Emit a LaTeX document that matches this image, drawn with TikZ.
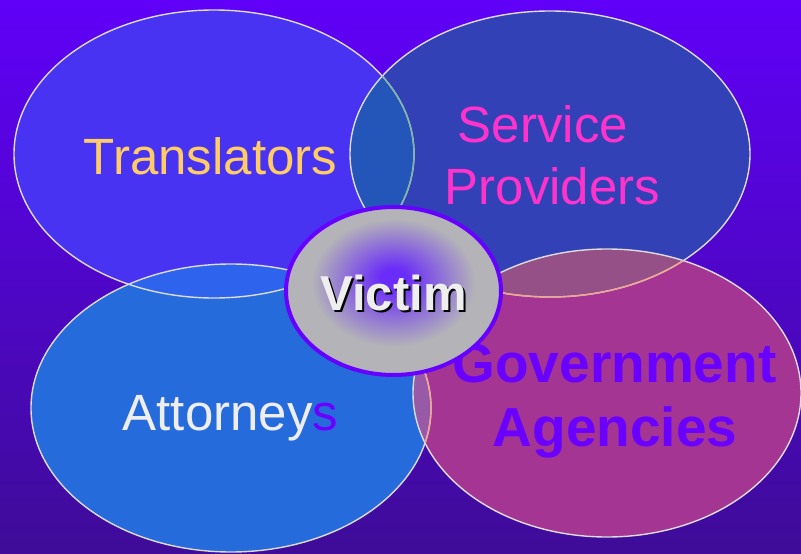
\documentclass[tikz,border=0pt]{standalone}
\usepackage{fontspec}
\setmainfont{Liberation Sans}
\definecolor{bgtop}{HTML}{6000F8}
\definecolor{bgmid}{HTML}{5204D8}
\definecolor{bgbot}{HTML}{3E0C98}
\definecolor{fillT}{HTML}{4933F2}
\definecolor{fillS}{HTML}{3241B5}
\definecolor{fillA}{HTML}{266BDC}
\definecolor{fillG}{HTML}{A53592}
\definecolor{fillTS}{HTML}{2356B8}
\definecolor{fillTA}{HTML}{2E63EE}
\definecolor{fillSG}{HTML}{955088}
\definecolor{fillAG}{HTML}{985AA6}
\definecolor{edge}{HTML}{DCDCDC}
\definecolor{edgeTS}{HTML}{80B4A6}
\definecolor{edgeG}{HTML}{EFA592}
\definecolor{vgray}{HTML}{B3B3B8}
\definecolor{vpur}{HTML}{6A2CF8}
\definecolor{vborder}{HTML}{6600FF}
\definecolor{ttrans}{HTML}{FFCC66}
\definecolor{tserv}{HTML}{FF33CC}
\definecolor{tatt}{HTML}{EEEEEE}
\definecolor{tgov}{HTML}{6A00FF}
\pgfdeclareradialshading{vglow}{\pgfpoint{0bp}{4bp}}{color(0bp)=(vpur); color(3bp)=(vpur); color(19bp)=(vgray); color(50bp)=(vgray)}
\newcommand{\ellT}{(214,154) ellipse [x radius=200pt, y radius=144pt]}
\newcommand{\ellS}{(550,154) ellipse [x radius=200pt, y radius=143pt]}
\newcommand{\ellA}{(231,408) ellipse [x radius=200pt, y radius=144pt]}
\newcommand{\ellG}{(607,393) ellipse [x radius=194pt, y radius=144pt]}
\tikzset{
  outline/.style={draw=edge, line width=1.4pt},
  label/.style={inner sep=0pt, anchor=base, font=\fontsize{51}{61}\selectfont},
  boldlabel/.style={inner sep=0pt, anchor=base, font=\fontsize{55}{64}\selectfont\bfseries},
}
\begin{document}
\begin{tikzpicture}[x=1pt,y=-1pt]
\useasboundingbox (0,0) rectangle (801,554);
\shade[top color=bgtop, middle color=bgmid, bottom color=bgbot] (0,0) rectangle (801,554);
% fills
\fill[fillT] \ellT;
\fill[fillS] \ellS;
\fill[fillA] \ellA;
\fill[fillG] \ellG;
% overlaps
\begin{scope}\clip \ellT; \fill[fillTS] \ellS; \end{scope}
\begin{scope}\clip \ellT; \fill[fillTA] \ellA; \end{scope}
\begin{scope}\clip \ellS; \fill[fillSG] \ellG; \end{scope}
\begin{scope}\clip \ellA; \fill[fillAG] \ellG; \end{scope}
% outlines
\path[outline] \ellT;
\path[outline] \ellS;
\path[outline] \ellA;
\path[outline] \ellG;
\begin{scope}\clip \ellS; \draw[edgeTS, line width=1.4pt] \ellT; \end{scope}
\begin{scope}\clip \ellG; \draw[edgeG, line width=1.4pt] \ellS; \draw[edgeG, line width=1.4pt] \ellA; \end{scope}
% labels
\node[label, text=ttrans] (translators) at (210.5,174) {Translators};
\node[label, text=tserv] (service) at (543,142) {Service};
\node[label, text=tserv] (providers) at (552.5,204) {Providers};
\node[label] (attorneys) at (230.5,430) {\textcolor{tatt}{Attorney}\textcolor{tgov}{s}};
\node[boldlabel, text=tgov] (government) at (614.5,382) {Government};
\node[boldlabel, text=tgov] (agencies) at (615,446) {Agencies};
% victim
\shade[shading=vglow, draw=vborder, line width=4pt] (393.5,291) ellipse [x radius=107.5pt, y radius=84pt];
\node[inner sep=0pt, anchor=base, text=tatt, font=\fontsize{49}{58}\selectfont\bfseries] (victim) at (393.5,310) {\rlap{\kern2pt\raisebox{-2pt}{\textcolor{black}{Victim}}}Victim};
\end{tikzpicture}
\end{document}
